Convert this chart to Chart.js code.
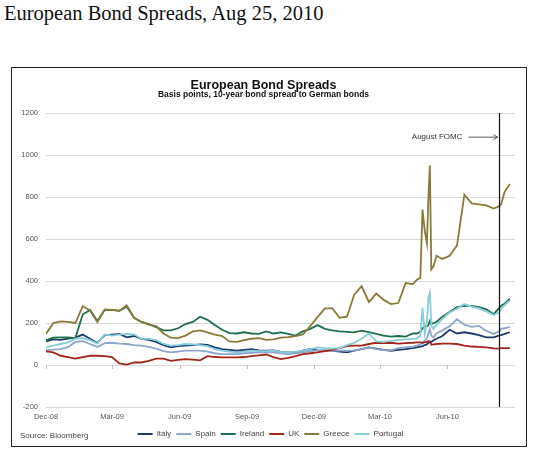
<!DOCTYPE html>
<html>
<head>
<meta charset="utf-8">
<script src="https://cdn.jsdelivr.net/npm/chart.js@4.4.1/dist/chart.umd.min.js"></script>
<style>
  html, body { margin: 0; padding: 0; background: #fff; }
  #page { position: relative; width: 540px; height: 453px; overflow: hidden; }
  #pageTitle { position: absolute; left: 4px; top: 2px; font-family: "Liberation Serif", "DejaVu Serif", serif; font-size: 20.5px; color: #111; white-space: nowrap; }
  #box { position: absolute; left: 11px; top: 67px; width: 516px; height: 380px; border: 1px solid #222; box-sizing: border-box; }
  #src { position: absolute; left: 20px; top: 431px; font-family: "Liberation Sans", Arial, sans-serif; font-size: 8px; color: #444; }
  canvas { position: absolute; left: 0; top: 0; }
</style>
</head>
<body>
<div id="page">
  <div id="pageTitle">European Bond Spreads, Aug 25, 2010</div>
  <div id="box"></div>
  <canvas id="c" width="540" height="453"></canvas>
  <div id="src">Source: Bloomberg</div>
</div>
<script>
// ---- data (basis points, 10-year spread to German bonds) ----
const startDate = '2008-12-01';
const dates = [
  '2008-12-01','2008-12-11','2008-12-21','2008-12-31','2009-01-10','2009-01-20','2009-01-30','2009-02-09','2009-02-19','2009-03-01',
  '2009-03-11','2009-03-21','2009-03-31','2009-04-10','2009-04-20','2009-04-30','2009-05-10','2009-05-20','2009-05-30','2009-06-09',
  '2009-06-19','2009-06-29','2009-07-09','2009-07-19','2009-07-29','2009-08-08','2009-08-18','2009-08-28','2009-09-07','2009-09-17',
  '2009-09-27','2009-10-07','2009-10-17','2009-10-27','2009-11-06','2009-11-16','2009-11-26','2009-12-06','2009-12-16','2009-12-26',
  '2010-01-05','2010-01-15','2010-01-25','2010-02-04','2010-02-14','2010-02-24','2010-03-06','2010-03-16','2010-03-26','2010-04-05',
  '2010-04-15','2010-04-20','2010-04-25','2010-04-28','2010-05-01','2010-05-04','2010-05-06','2010-05-08','2010-05-10','2010-05-13',
  '2010-05-17','2010-05-25','2010-06-04','2010-06-14','2010-06-24','2010-07-04','2010-07-14','2010-07-24','2010-08-03','2010-08-10',
  '2010-08-13','2010-08-18','2010-08-25'
];
const italy = [112,122,120,126,130,145,125,105,142,145, 148,132,138,125,120,110,95,84,90,92,
  95,98,96,84,76,72,68,72,75,70, 68,70,62,60,60,68,76,70,68,68,
  64,60,68,76,84,78,72,68,72,76, 80,84,88,90,95,98,105,112,110,118,
  125,138,168,150,156,150,142,132,132,140, 142,148,156];
const spain = [71,73,76,85,110,114,100,86,104,106, 102,100,95,92,86,78,66,60,64,68,
  68,68,64,56,52,52,52,56,58,60, 60,60,55,52,56,60,66,70,70,68,
  68,68,68,76,84,76,71,70,80,84, 88,92,98,105,115,128,150,170,140,132,
  150,165,185,218,192,182,186,162,148,160, 172,175,180];
const ireland = [118,130,132,132,128,240,262,210,262,262, 258,278,225,205,195,180,165,165,175,195,
  205,230,215,190,168,152,150,156,150,148, 160,150,155,148,140,160,172,190,172,165,
  160,158,155,164,156,148,140,135,138,135, 150,150,158,175,185,185,190,210,195,200,
  205,230,252,276,282,282,276,265,242,270, 282,292,316];
const uk = [65,60,44,38,30,38,44,44,42,38, 8,2,12,12,20,30,30,20,24,28,
  26,22,42,38,36,36,36,38,42,46, 50,38,28,34,42,52,56,60,66,72,
  80,90,92,92,100,106,104,106,102,104, 106,108,108,106,108,110,114,110,96,98,
  100,102,102,100,92,88,86,84,79,78, 80,80,80];
const greece = [148,200,208,205,200,280,260,205,265,262, 258,284,225,205,192,185,150,130,128,140,
  160,165,155,145,138,112,110,118,125,128, 120,122,130,133,138,145,185,228,270,270,
  225,230,335,375,300,340,310,290,295,390, 385,405,415,740,640,580,800,950,455,470,
  520,505,520,570,810,770,765,760,745,755, 765,825,862];
const portugal = [84,92,100,108,125,128,118,102,145,140, 145,148,146,124,124,118,100,92,95,100,
  98,95,90,76,68,64,60,64,68,66, 66,68,62,60,64,68,76,84,80,78,
  80,95,105,125,150,112,110,115,120,122, 124,126,140,272,150,200,320,345,185,172,
  190,220,250,268,290,278,270,255,238,250, 268,285,308];

const seriesNames = ['Italy','Spain','Ireland','UK','Greece','Portugal'];
const seriesValues = [italy, spain, ireland, uk, greece, portugal];
const seriesColors = ['#1c3a6b','#8ea6cc','#1f6e4c','#a3261a','#8a7a3a','#86cddc'];

const tickDates = ['2008-12-01','2009-03-01','2009-06-01','2009-09-01','2009-12-01','2010-03-01','2010-06-01'];
const tickLabels = ['Dec-08','Mar-09','Jun-09','Sep-09','Dec-09','Mar-10','Jun-10'];
const yTickValues = [-200,0,200,400,600,800,1000,1200];
const fomcDate = '2010-08-10';
const fomcLabel = 'August FOMC';
const xEndDate = '2010-08-31';

// ---- helpers ----
const DAY = 86400000;
const toDay = s => (Date.parse(s) - Date.parse(startDate)) / DAY;
const dayX = dates.map(toDay);
const tickDays = tickDates.map(toDay);

const axisFont = '"Liberation Sans", Arial, sans-serif';

const datasets = seriesNames.map((name, i) => ({
  label: name,
  data: dayX.map((d, j) => ({ x: d, y: seriesValues[i][j] })),
  borderColor: seriesColors[i],
  backgroundColor: seriesColors[i],
  borderWidth: 1.8,
  pointRadius: 0,
  tension: 0,
  order: seriesNames.length - i
}));

const overlay = {
  id: 'overlay',
  beforeDraw(chart) {
    // nudge the legend block slightly right, as in the original layout
    if (!chart.$legendShifted && chart.legend) {
      chart.legend.left += 7; chart.legend.right += 7;
      chart.$legendShifted = true;
    }
  },
  afterDatasetsDraw(chart) {
    const { ctx, chartArea, scales } = chart;
    const xs = scales.x, ys = scales.y;
    const y0 = ys.getPixelForValue(0);
    ctx.save();
    ctx.strokeStyle = '#bfbfbf';
    ctx.lineWidth = 1;
    tickDays.forEach(d => {
      const x = Math.round(xs.getPixelForValue(d)) + 0.5;
      ctx.beginPath(); ctx.moveTo(x, y0); ctx.lineTo(x, y0 + 4); ctx.stroke();
    });
    const fx = Math.round(xs.getPixelForValue(toDay(fomcDate))) + 0.5;
    ctx.strokeStyle = '#111';
    ctx.lineWidth = 1.2;
    ctx.beginPath(); ctx.moveTo(fx, chartArea.top); ctx.lineTo(fx, chartArea.bottom); ctx.stroke();
    const ly = ys.getPixelForValue(1085);
    ctx.font = '8px ' + axisFont;
    ctx.fillStyle = '#333';
    ctx.textAlign = 'right';
    ctx.textBaseline = 'middle';
    ctx.fillText(fomcLabel, fx - 37, ly);
    ctx.strokeStyle = '#333';
    ctx.lineWidth = 0.8;
    ctx.beginPath(); ctx.moveTo(fx - 31, ly); ctx.lineTo(fx - 2, ly); ctx.stroke();
    ctx.beginPath(); ctx.moveTo(fx - 6, ly - 2.5); ctx.lineTo(fx - 2, ly); ctx.lineTo(fx - 6, ly + 2.5); ctx.stroke();
    ctx.restore();
  }
};

new Chart(document.getElementById('c'), {
  type: 'line',
  data: { datasets },
  options: {
    responsive: false,
    animation: false,
    layout: { padding: { left: 12, right: 25, top: 67, bottom: 5 } },
    plugins: {
      title: {
        display: true, text: 'European Bond Spreads', color: '#111',
        font: { family: axisFont, size: 12.5, weight: 'bold', lineHeight: 1 },
        padding: { top: 12, bottom: 0 }
      },
      subtitle: {
        display: true, text: 'Basis points, 10-year bond spread to German bonds', color: '#111',
        font: { family: axisFont, size: 8.5, weight: 'bold', lineHeight: 1 },
        padding: { top: -1, bottom: 14 }
      },
      legend: {
        position: 'bottom',
        labels: {
          boxWidth: 15, boxHeight: 2, padding: 5, color: '#444',
          font: { family: axisFont, size: 8 },
          sort: (a, b) => a.datasetIndex - b.datasetIndex,
          generateLabels(chart) {
            return chart.data.datasets.map((ds, i) => ({
              text: ds.label, fillStyle: ds.borderColor, strokeStyle: ds.borderColor,
              lineWidth: 0, hidden: false, datasetIndex: i, fontColor: '#444'
            }));
          }
        }
      },
      tooltip: { enabled: false }
    },
    scales: {
      x: {
        type: 'linear', min: 0, max: toDay(xEndDate) + 1,
        grid: { display: false, drawTicks: false },
        border: { display: false },
        afterBuildTicks: s => { s.ticks = tickDays.map(v => ({ value: v })); },
        afterFit: s => { s.height = 18; },
        ticks: {
          padding: 5, color: '#555', font: { family: axisFont, size: 7.5 },
          maxRotation: 0, autoSkip: false,
          callback: v => tickLabels[tickDays.indexOf(v)]
        }
      },
      y: {
        min: -200, max: 1200,
        afterBuildTicks: s => { s.ticks = yTickValues.map(v => ({ value: v })); },
        afterFit: s => { s.width = 34; },
        grid: { color: '#dadada', drawTicks: false, lineWidth: 1 },
        border: { display: false },
        ticks: { padding: 8, color: '#555', font: { family: axisFont, size: 7.5 }, callback: v => String(v) }
      }
    }
  },
  plugins: [overlay]
});
</script>
</body>
</html>
